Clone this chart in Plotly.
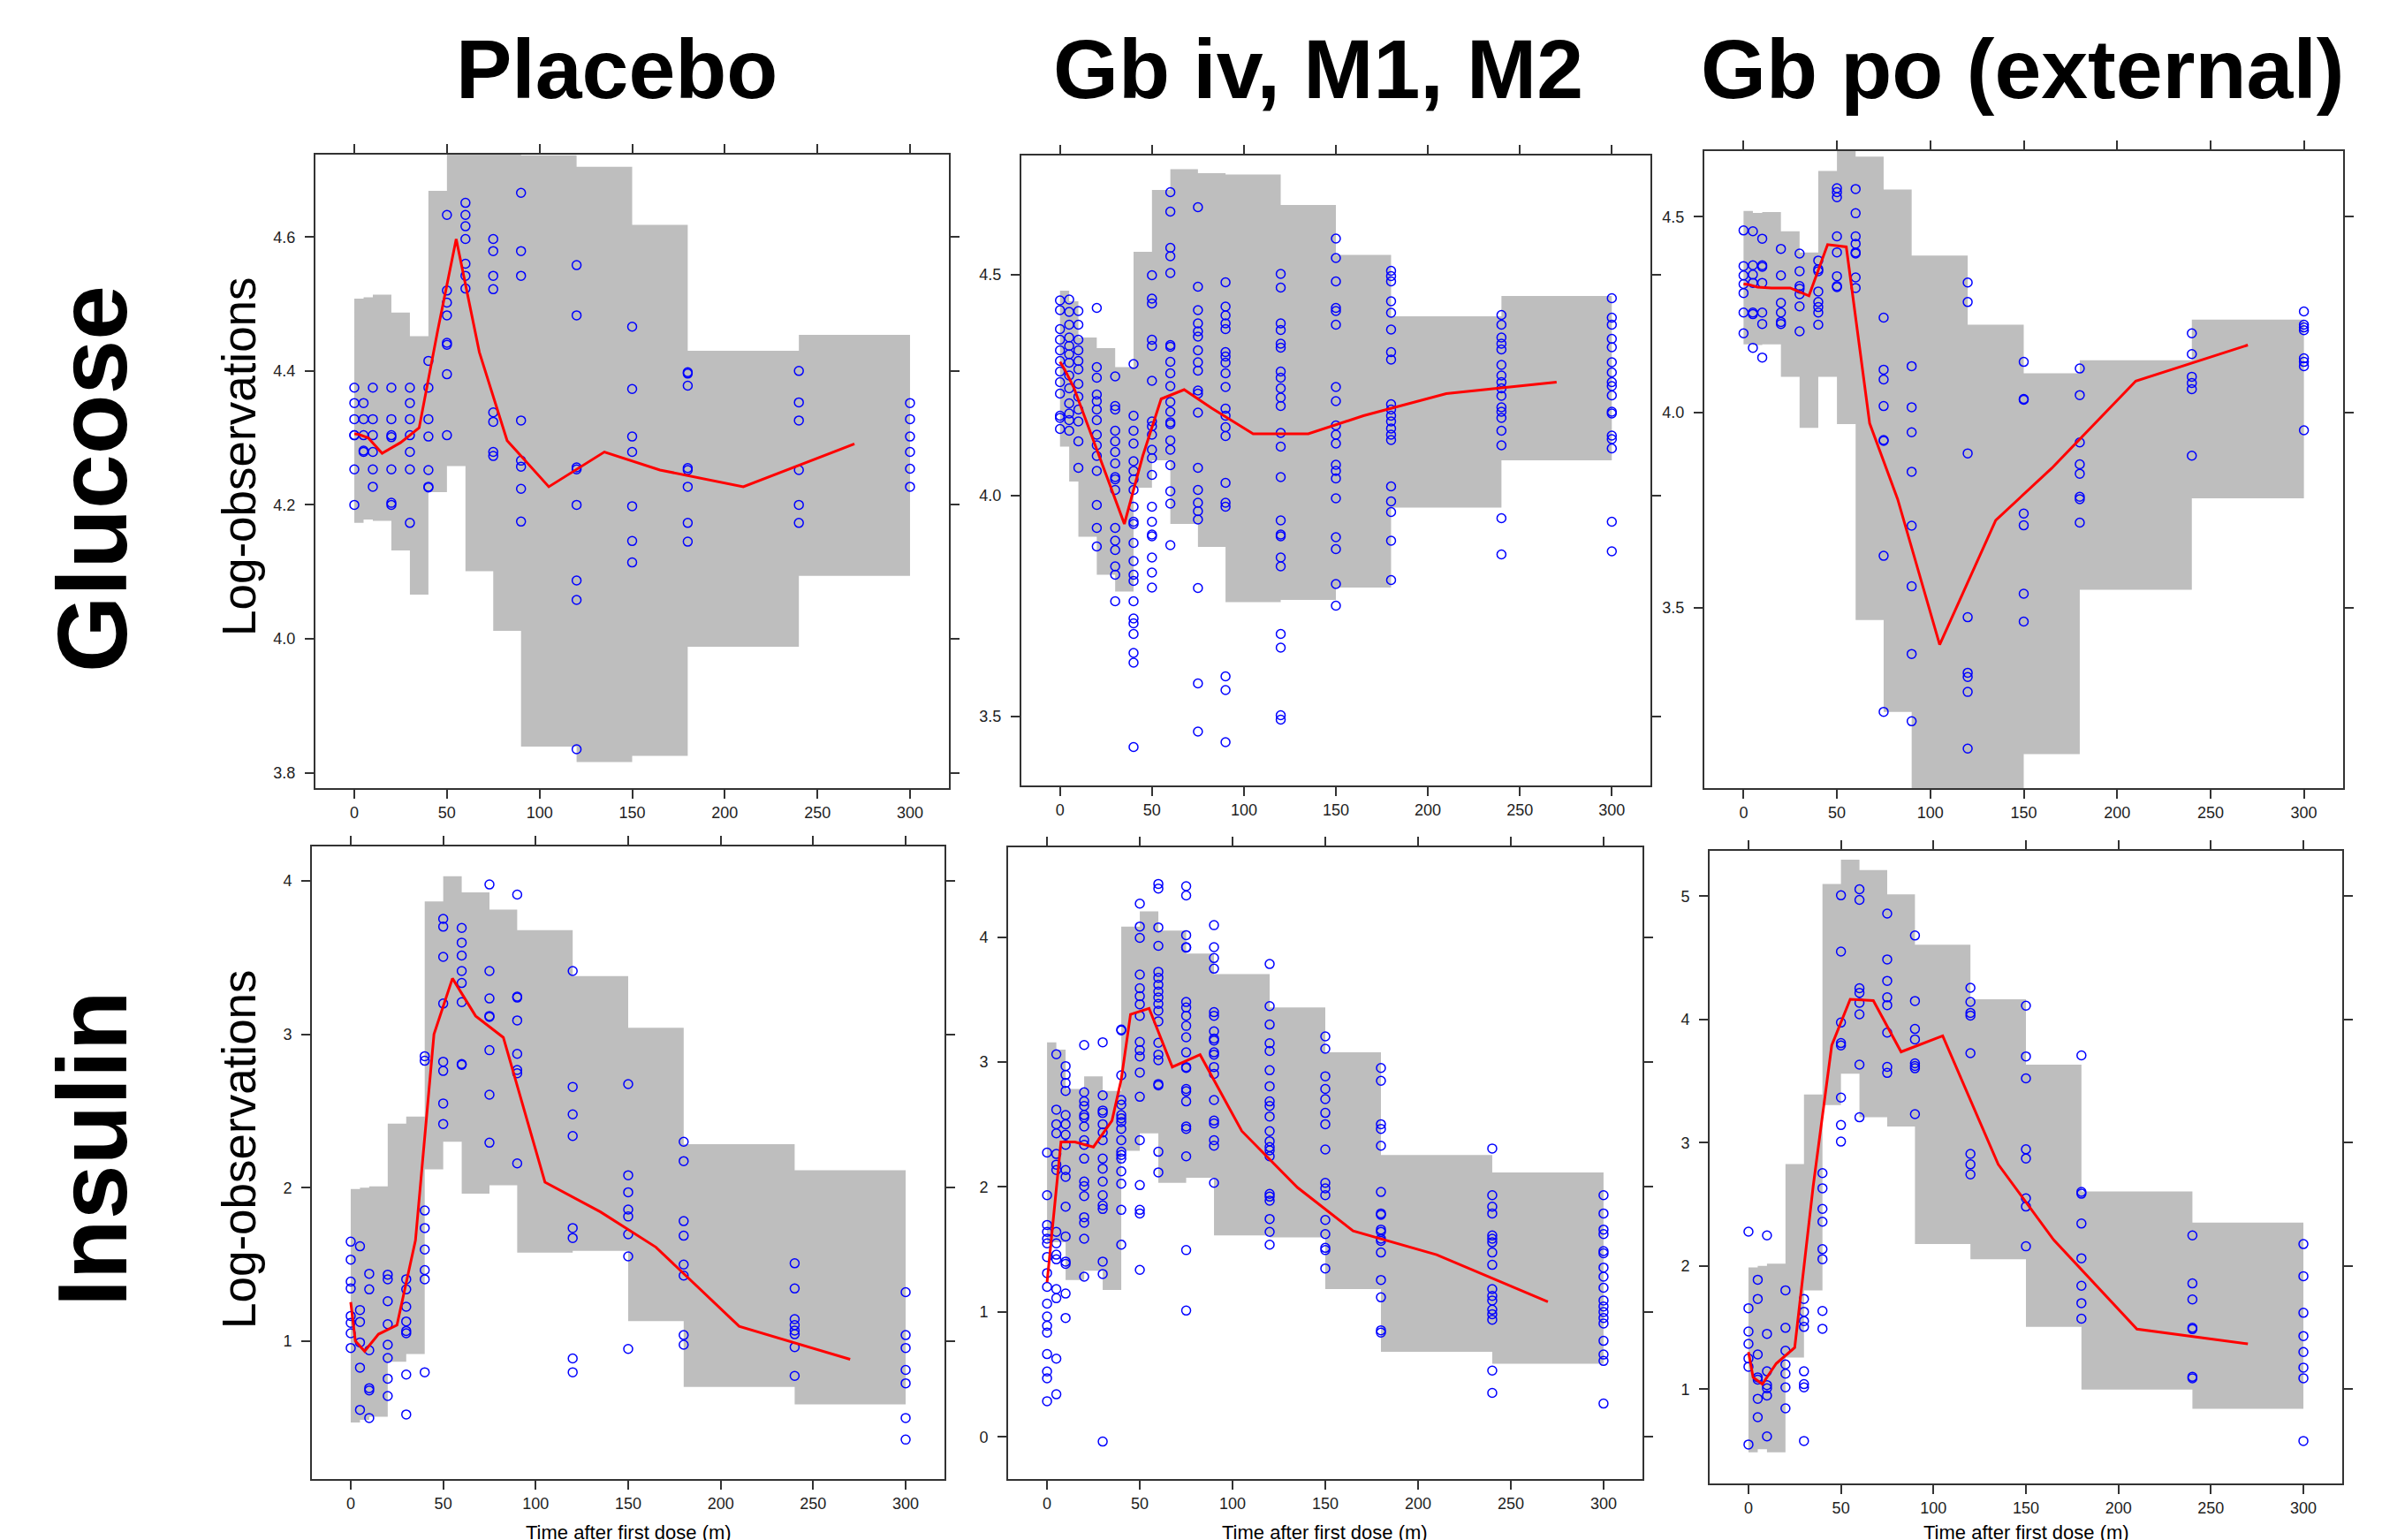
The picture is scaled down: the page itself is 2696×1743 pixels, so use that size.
import plotly.graph_objects as go

W, H = 2696, 1743

# ---------------- shared data ----------------
OBS_TIMES = [0, 5, 10, 20, 30, 40, 50, 60, 75, 90, 120, 150, 180, 240, 300]
BIN_EDGES = [0, 5, 10, 20, 30, 40, 50, 60, 75, 90, 120, 150, 180, 240, 300]
X_TICKS = [0, 50, 100, 150, 200, 250, 300]
COL_TITLES = ["Placebo", "Gb iv, M1, M2", "Gb po (external)"]
ROW_TITLES = ["Glucose", "Insulin"]
Y_LABEL = "Log-observations"
X_LABEL = "Time after first dose (m)"

# ---------------- Panel 1: Glucose / Placebo ----------------
p1_upper = [4.508, 4.510, 4.514, 4.487, 4.452, 4.669, 4.80, 4.80, 4.80, 4.722, 4.705, 4.618, 4.430, 4.454]
p1_lower = [4.173, 4.178, 4.176, 4.132, 4.066, 4.219, 4.258, 4.101, 4.012, 3.839, 3.816, 3.825, 3.988, 4.094]
p1_obs = [
    [4.375, 4.352, 4.328, 4.304, 4.304, 4.253, 4.200],
    [4.352, 4.328, 4.304, 4.279, 4.281],
    [4.375, 4.328, 4.304, 4.279, 4.253, 4.227],
    [4.375, 4.328, 4.304, 4.301, 4.253, 4.203, 4.200],
    [4.375, 4.352, 4.328, 4.304, 4.279, 4.253, 4.173],
    [4.415, 4.375, 4.328, 4.302, 4.252, 4.227, 4.226],
    [4.633, 4.520, 4.502, 4.483, 4.442, 4.439, 4.395, 4.304],
    [4.651, 4.633, 4.616, 4.597, 4.560, 4.542, 4.523],
    [4.597, 4.579, 4.542, 4.522, 4.338, 4.324, 4.279, 4.273],
    [4.666, 4.579, 4.542, 4.326, 4.266, 4.257, 4.224, 4.175],
    [4.558, 4.483, 4.256, 4.253, 4.200, 4.087, 4.058, 3.835],
    [4.466, 4.373, 4.302, 4.279, 4.198, 4.146, 4.114],
    [4.398, 4.396, 4.378, 4.255, 4.252, 4.227, 4.173, 4.145],
    [4.400, 4.353, 4.326, 4.252, 4.200, 4.173],
    [4.352, 4.328, 4.302, 4.279, 4.254, 4.227],
]
p1_med_x = [0, 2.5, 7.5, 15, 25, 35, 45, 55, 67.5, 82.5, 105, 135, 165, 210, 270]
p1_med_y = [4.306, 4.305, 4.300, 4.277, 4.293, 4.315, 4.46, 4.597, 4.428, 4.296, 4.227, 4.279, 4.252, 4.227, 4.291]

# ---------------- Panel 2: Glucose / Gb iv ----------------
p2_upper = [4.464, 4.44, 4.358, 4.334, 4.291, 4.552, 4.692, 4.739, 4.730, 4.727, 4.658, 4.545, 4.406, 4.452]
p2_lower = [4.111, 4.032, 3.907, 3.821, 3.783, 4.018, 4.080, 3.936, 3.884, 3.759, 3.764, 3.792, 3.973, 4.080]
p2_obs = [
    [4.442, 4.420, 4.377, 4.353, 4.329, 4.305, 4.281, 4.257, 4.231, 4.181, 4.176, 4.151],
    [4.444, 4.416, 4.387, 4.358, 4.339, 4.320, 4.301, 4.272, 4.243, 4.209, 4.186, 4.171, 4.147],
    [4.418, 4.387, 4.353, 4.329, 4.305, 4.286, 4.253, 4.224, 4.195, 4.168, 4.123, 4.063],
    [4.425, 4.291, 4.267, 4.229, 4.214, 4.195, 4.171, 4.138, 4.114, 4.090, 4.056, 3.979, 3.927, 3.885],
    [4.270, 4.203, 4.195, 4.147, 4.123, 4.099, 4.073, 4.042, 4.037, 4.013, 3.927, 3.898, 3.877, 3.840, 3.821, 3.761],
    [4.298, 4.181, 4.147, 4.118, 4.078, 4.056, 4.037, 4.013, 3.975, 3.941, 3.936, 3.893, 3.852, 3.821, 3.807,
     3.761, 3.722, 3.711, 3.687, 3.644, 3.622, 3.431],
    [4.499, 4.446, 4.435, 4.353, 4.339, 4.260, 4.168, 4.157, 4.138, 4.104, 4.085, 4.047, 3.975, 3.941, 3.912,
     3.908, 3.860, 3.826, 3.792],
    [4.687, 4.643, 4.561, 4.542, 4.504, 4.341, 4.337, 4.303, 4.277, 4.248, 4.212, 4.190, 4.166, 4.162, 4.125,
     4.104, 4.069, 4.010, 3.982, 3.888],
    [4.653, 4.473, 4.420, 4.390, 4.372, 4.360, 4.329, 4.302, 4.283, 4.238, 4.231, 4.188, 4.063, 4.013, 3.984,
     3.965, 3.946, 3.791, 3.575, 3.466],
    [4.483, 4.428, 4.408, 4.390, 4.377, 4.325, 4.315, 4.301, 4.277, 4.246, 4.197, 4.181, 4.155, 4.135, 4.029,
     3.984, 3.975, 3.591, 3.560, 3.442],
    [4.502, 4.471, 4.390, 4.375, 4.344, 4.335, 4.281, 4.267, 4.243, 4.222, 4.203, 4.142, 4.111, 4.042, 3.944,
     3.912, 3.908, 3.860, 3.840, 3.687, 3.656, 3.503, 3.493],
    [4.582, 4.538, 4.485, 4.425, 4.418, 4.387, 4.246, 4.214, 4.159, 4.138, 4.118, 4.070, 4.056, 4.039, 3.994,
     3.906, 3.879, 3.800, 3.751],
    [4.509, 4.497, 4.485, 4.440, 4.414, 4.376, 4.325, 4.308, 4.207, 4.195, 4.181, 4.168, 4.152, 4.138, 4.126,
     4.021, 3.987, 3.963, 3.898, 3.809],
    [4.409, 4.387, 4.358, 4.344, 4.331, 4.296, 4.272, 4.257, 4.243, 4.226, 4.200, 4.190, 4.176, 4.147, 4.114,
     3.949, 3.867],
    [4.447, 4.403, 4.387, 4.355, 4.336, 4.302, 4.279, 4.257, 4.248, 4.227, 4.190, 4.186, 4.136, 4.128, 4.107,
     3.941, 3.874],
]
p2_med_x = [0, 2.5, 7.5, 15, 25, 35, 45, 55, 67.5, 82.5, 105, 135, 165, 210, 270]
p2_med_y = [4.303, 4.286, 4.245, 4.16, 4.05, 3.936, 4.09, 4.219, 4.240, 4.198, 4.140, 4.140, 4.181, 4.231, 4.257]

# ---------------- Panel 3: Glucose / Gb po ----------------
p3_upper = [4.515, 4.510, 4.512, 4.463, 4.409, 4.617, 4.70, 4.654, 4.570, 4.401, 4.224, 4.100, 4.133, 4.237]
p3_lower = [4.174, 4.172, 4.174, 4.091, 3.960, 4.091, 3.970, 3.469, 3.234, 2.90, 2.90, 3.126, 3.546, 3.780]
p3_obs = [
    [4.465, 4.374, 4.350, 4.328, 4.305, 4.255, 4.202],
    [4.463, 4.376, 4.352, 4.331, 4.255, 4.251, 4.165],
    [4.444, 4.376, 4.372, 4.331, 4.255, 4.226, 4.140],
    [4.418, 4.350, 4.280, 4.255, 4.231, 4.226],
    [4.406, 4.361, 4.323, 4.316, 4.302, 4.271, 4.207],
    [4.388, 4.366, 4.361, 4.309, 4.282, 4.269, 4.255, 4.224],
    [4.573, 4.563, 4.550, 4.450, 4.409, 4.348, 4.323, 4.320],
    [4.571, 4.509, 4.450, 4.431, 4.409, 4.406, 4.345, 4.318],
    [4.242, 4.109, 4.084, 4.016, 3.929, 3.927, 3.633, 3.234],
    [4.118, 4.013, 3.949, 3.848, 3.710, 3.555, 3.382, 3.210],
    [4.332, 4.282, 3.895, 3.476, 3.334, 3.323, 3.285, 3.140],
    [4.129, 4.034, 4.032, 3.741, 3.711, 3.536, 3.465],
    [4.112, 4.044, 3.923, 3.867, 3.843, 3.784, 3.778, 3.718],
    [4.202, 4.149, 4.091, 4.075, 4.059, 3.889],
    [4.258, 4.224, 4.217, 4.210, 4.138, 4.129, 4.118, 3.954],
]
p3_med_x = [0, 2.5, 7.5, 15, 25, 35, 45, 55, 67.5, 82.5, 105, 135, 165, 210, 270]
p3_med_y = [4.328, 4.327, 4.320, 4.318, 4.318, 4.298, 4.429, 4.423, 3.972, 3.778, 3.406, 3.724, 3.857, 4.080, 4.172]

# ---------------- Panel 4: Insulin / Placebo ----------------
p4_upper = [1.991, 2.000, 2.009, 2.418, 2.463, 3.866, 4.03, 3.925, 3.812, 3.678, 3.379, 3.042, 2.284, 2.113]
p4_lower = [0.469, 0.487, 0.507, 0.866, 0.916, 2.119, 2.299, 1.961, 2.015, 1.576, 1.588, 1.131, 0.701, 0.588]
p4_obs = [
    [1.648, 1.531, 1.388, 1.343, 1.164, 1.119, 1.051, 0.955],
    [1.618, 1.203, 1.125, 0.991, 0.827, 0.552],
    [1.439, 1.337, 0.940, 0.693, 0.678, 0.499],
    [1.433, 1.403, 1.260, 1.110, 0.976, 0.890, 0.755, 0.642],
    [1.403, 1.337, 1.224, 1.128, 1.066, 1.051, 0.782, 0.522],
    [2.857, 2.827, 1.851, 1.737, 1.597, 1.463, 1.403, 0.797],
    [3.752, 3.701, 3.504, 3.200, 2.821, 2.761, 2.549, 2.415],
    [3.693, 3.597, 3.513, 3.412, 3.334, 3.209, 2.806, 2.800],
    [3.976, 3.412, 3.233, 3.119, 3.113, 2.896, 2.606, 2.293],
    [3.910, 3.245, 3.239, 3.090, 2.872, 2.767, 2.746, 2.158],
    [3.412, 2.657, 2.478, 2.337, 1.737, 1.672, 0.887, 0.797],
    [2.675, 2.081, 1.970, 1.857, 1.812, 1.696, 1.552, 0.949],
    [2.299, 2.173, 1.782, 1.687, 1.499, 1.427, 1.039, 0.976],
    [1.507, 1.343, 1.143, 1.104, 1.069, 1.045, 0.961, 0.773],
    [1.319, 1.039, 0.955, 0.812, 0.725, 0.499, 0.358],
]
p4_med_x = [0, 2.5, 7.5, 15, 25, 35, 45, 55, 67.5, 82.5, 105, 135, 165, 210, 270]
p4_med_y = [1.254, 1.000, 0.934, 1.045, 1.104, 1.657, 3.000, 3.364, 3.119, 2.979, 2.036, 1.842, 1.612, 1.096, 0.881]

# ---------------- Panel 5: Insulin / Gb iv ----------------
p5_upper = [3.158, 3.099, 2.784, 2.886, 2.769, 4.084, 4.205, 4.051, 3.868, 3.703, 3.436, 3.077, 2.256, 2.117]
p5_lower = [1.557, 1.557, 1.256, 1.330, 1.176, 2.289, 2.429, 2.033, 2.073, 1.612, 1.597, 1.183, 0.681, 0.586]
p5_obs = [
    [2.275, 1.934, 1.696, 1.641, 1.586, 1.549, 1.440, 1.311, 1.201, 1.066, 0.963, 0.890, 0.835, 0.663, 0.524,
     0.469, 0.286],
    [3.062, 2.619, 2.502, 2.429, 2.264, 2.179, 2.136, 1.641, 1.549, 1.458, 1.421, 1.183, 1.110, 0.626, 0.341],
    [2.967, 2.897, 2.832, 2.769, 2.575, 2.502, 2.418, 2.337, 2.136, 2.081, 1.842, 1.604, 1.403, 1.385, 1.147,
     0.952],
    [3.136, 2.758, 2.685, 2.648, 2.575, 2.557, 2.484, 2.374, 2.337, 2.227, 2.044, 2.007, 1.927, 1.758, 1.714,
     1.586, 1.282],
    [3.158, 2.733, 2.612, 2.593, 2.502, 2.436, 2.374, 2.227, 2.147, 2.044, 1.934, 1.853, 1.824, 1.403, 1.304,
     -0.037],
    [3.260, 3.253, 2.894, 2.696, 2.659, 2.575, 2.549, 2.520, 2.465, 2.374, 2.282, 2.256, 2.227, 2.125, 2.026,
     1.817, 1.538],
    [4.267, 4.084, 3.993, 3.700, 3.590, 3.527, 3.462, 3.370, 3.161, 3.095, 3.044, 2.916, 2.722, 2.374, 2.015,
     1.817, 1.788, 1.337],
    [4.425, 4.388, 4.077, 3.930, 3.722, 3.674, 3.619, 3.564, 3.516, 3.465, 3.410, 3.326, 3.154, 3.059, 3.015,
     2.824, 2.813, 2.282, 2.117],
    [4.407, 4.333, 4.015, 3.919, 3.915, 3.480, 3.436, 3.370, 3.289, 3.198, 3.077, 2.960, 2.952, 2.784, 2.766,
     2.685, 2.484, 2.465, 2.245, 1.495, 1.011],
    [4.095, 3.919, 3.832, 3.747, 3.399, 3.370, 3.245, 3.187, 3.172, 3.077, 3.059, 2.960, 2.905, 2.696, 2.531,
     2.509, 2.374, 2.330, 2.033],
    [3.784, 3.447, 3.300, 3.150, 3.088, 2.934, 2.806, 2.685, 2.648, 2.564, 2.447, 2.366, 2.319, 2.293, 2.245,
     1.945, 1.923, 1.890, 1.744, 1.641, 1.538],
    [3.205, 3.106, 2.886, 2.784, 2.703, 2.593, 2.502, 2.300, 2.033, 1.989, 1.934, 1.736, 1.623, 1.513, 1.495,
     1.348],
    [2.952, 2.850, 2.502, 2.465, 2.330, 1.960, 1.788, 1.777, 1.659, 1.641, 1.586, 1.568, 1.476, 1.256, 1.117,
     0.853, 0.835],
    [2.308, 1.934, 1.842, 1.788, 1.612, 1.586, 1.557, 1.476, 1.377, 1.183, 1.128, 1.092, 1.018, 0.982, 0.938,
     0.531, 0.352],
    [1.934, 1.788, 1.659, 1.623, 1.487, 1.469, 1.355, 1.282, 1.194, 1.092, 1.044, 1.000, 0.952, 0.908, 0.769,
     0.659, 0.608, 0.267],
]
p5_med_x = [0, 7.5, 15, 25, 35, 40, 45, 55, 67.5, 82.5, 105, 135, 165, 210, 270]
p5_med_y = [1.238, 2.360, 2.360, 2.320, 2.531, 2.86, 3.381, 3.429, 2.960, 3.059, 2.447, 1.996, 1.648, 1.458, 1.081]

# ---------------- Panel 6: Insulin / Gb po ----------------
p6_upper = [1.988, 2.000, 2.018, 2.827, 3.392, 5.100, 5.297, 5.212, 5.015, 4.606, 4.164, 3.633, 2.604, 2.352]
p6_lower = [0.487, 0.513, 0.487, 1.256, 1.802, 3.306, 3.559, 3.206, 3.132, 2.177, 2.055, 1.505, 0.996, 0.840]
p6_obs = [
    [2.278, 1.657, 1.468, 1.368, 1.249, 1.182, 0.551],
    [1.888, 1.732, 1.282, 1.096, 1.078, 0.922, 0.773],
    [2.248, 1.449, 1.145, 1.033, 1.007, 0.948, 0.617],
    [1.802, 1.498, 1.312, 1.201, 1.126, 1.015, 0.844],
    [1.732, 1.628, 1.553, 1.505, 1.145, 1.041, 1.015, 0.580],
    [2.753, 2.630, 2.463, 2.359, 2.136, 2.055, 1.635, 1.490],
    [5.007, 4.551, 3.975, 3.808, 3.789, 3.366, 3.143, 3.009],
    [5.056, 4.970, 4.253, 4.216, 4.135, 4.042, 3.633, 3.206],
    [4.859, 4.487, 4.313, 4.179, 4.116, 3.893, 3.615, 3.566],
    [4.681, 4.150, 3.923, 3.838, 3.644, 3.622, 3.604, 3.232],
    [4.257, 4.142, 4.053, 4.031, 3.726, 2.909, 2.824, 2.742],
    [4.112, 3.700, 3.522, 2.946, 2.872, 2.549, 2.482, 2.159],
    [3.708, 2.601, 2.586, 2.344, 2.062, 1.839, 1.698, 1.572],
    [2.248, 1.858, 1.728, 1.498, 1.487, 1.100, 1.089],
    [2.177, 1.917, 1.620, 1.431, 1.301, 1.175, 1.089, 0.580],
]
p6_med_x = [0, 2.5, 7.5, 15, 25, 35, 45, 55, 67.5, 82.5, 105, 135, 165, 210, 270]
p6_med_y = [1.301, 1.096, 1.041, 1.208, 1.338, 2.649, 3.789, 4.164, 4.153, 3.737, 3.867, 2.824, 2.211, 1.487, 1.368]

# y axis ranges / ticks per panel
Y_RANGES = [[3.777, 4.723], [3.344, 4.770], [3.039, 4.668],
            [0.101, 4.224], [-0.337, 4.718], [0.235, 5.368]]
Y_TICKS = [[3.8, 4.0, 4.2, 4.4, 4.6], [3.5, 4.0, 4.5], [3.5, 4.0, 4.5],
           [1, 2, 3, 4], [0, 1, 2, 3, 4], [1, 2, 3, 4, 5]]
Y_FORMATS = [".1f", ".1f", ".1f", "d", "d", "d"]

# ---------------- layout geometry (pixels) ----------------
FRAMES = [  # x0, x1, y0(top), y1(bottom)
    (349, 1066, 167, 884),
    (1148, 1860, 168, 881),
    (1921, 2644, 163, 884),
    (345, 1061, 950, 1666),
    (1133, 1851, 951, 1666),
    (1927, 2643, 955, 1671),
]

panels = [
    (p1_upper, p1_lower, p1_obs, p1_med_x, p1_med_y),
    (p2_upper, p2_lower, p2_obs, p2_med_x, p2_med_y),
    (p3_upper, p3_lower, p3_obs, p3_med_x, p3_med_y),
    (p4_upper, p4_lower, p4_obs, p4_med_x, p4_med_y),
    (p5_upper, p5_lower, p5_obs, p5_med_x, p5_med_y),
    (p6_upper, p6_lower, p6_obs, p6_med_x, p6_med_y),
]

FONT = "Liberation Sans, Arial, sans-serif"
AXCOL = "#333333"

fig = go.Figure()


def band_polygon(edges, lower, upper):
    xs, ys = [], []
    for i in range(len(upper)):
        xs += [edges[i], edges[i + 1]]
        ys += [upper[i], upper[i]]
    for i in reversed(range(len(lower))):
        xs += [edges[i + 1], edges[i]]
        ys += [lower[i], lower[i]]
    xs.append(xs[0])
    ys.append(ys[0])
    return xs, ys


layout_axes = {}
for k, (up, lo, obs, mx, my) in enumerate(panels):
    n = k + 1
    xa = "x" if n == 1 else f"x{n}"
    ya = "y" if n == 1 else f"y{n}"
    bx, by = band_polygon(BIN_EDGES, lo, up)
    fig.add_trace(go.Scatter(x=bx, y=by, xaxis=xa, yaxis=ya, mode="lines",
                             fill="toself", fillcolor="#BEBEBE",
                             line=dict(width=0, color="#BEBEBE"),
                             hoverinfo="skip", showlegend=False))
    ox = [t for t, vals in zip(OBS_TIMES, obs) for _ in vals]
    oy = [v for vals in obs for v in vals]
    fig.add_trace(go.Scatter(x=ox, y=oy, xaxis=xa, yaxis=ya, mode="markers",
                             marker=dict(symbol="circle-open", size=10, color="#0000FF",
                                         line=dict(width=1.5, color="#0000FF")),
                             showlegend=False))
    fig.add_trace(go.Scatter(x=mx, y=my, xaxis=xa, yaxis=ya, mode="lines",
                             line=dict(color="#FF0000", width=3),
                             showlegend=False))

    x0, x1, yt, yb = FRAMES[k]
    common = dict(showline=True, linewidth=2, linecolor=AXCOL, mirror="ticks",
                  ticks="outside", ticklen=10, tickwidth=1.5, tickcolor=AXCOL,
                  showgrid=False, zeroline=False, fixedrange=True,
                  tickfont=dict(family=FONT, size=18, color="#222222"))
    key = "" if n == 1 else str(n)
    layout_axes["xaxis" + key] = dict(domain=[x0 / W, x1 / W], anchor=ya,
                                      range=[-21, 321], tickmode="array",
                                      tickvals=X_TICKS, ticklabelstandoff=0, **common)
    layout_axes["yaxis" + key] = dict(domain=[1 - yb / H, 1 - yt / H], anchor=xa,
                                      range=Y_RANGES[k], tickmode="array",
                                      tickvals=Y_TICKS[k], tickformat=Y_FORMATS[k],
                                      ticklabelstandoff=7, **common)

fig.update_layout(**layout_axes)

annotations = []
# column titles
for title, cx in zip(COL_TITLES, [690, 1484, 2281]):
    annotations.append(dict(text=f"<b>{title}</b>", x=cx / W, y=1 - 70 / H, xref="paper", yref="paper",
                            xanchor="center", yanchor="middle", showarrow=False,
                            font=dict(family=FONT, size=95, color="black")))
# row titles
for title, cy in zip(ROW_TITLES, [534, 1292]):
    annotations.append(dict(text=f"<b>{title}</b>", x=97 / W, y=1 - cy / H, xref="paper", yref="paper",
                            xanchor="center", yanchor="middle", showarrow=False, textangle=-90,
                            font=dict(family=FONT, size=111, color="black")))
# y labels
for cy in [509, 1293]:
    annotations.append(dict(text=Y_LABEL, x=262 / W, y=1 - cy / H, xref="paper", yref="paper",
                            xanchor="center", yanchor="middle", showarrow=False, textangle=-90,
                            font=dict(family=FONT, size=53, color="black")))
# x labels
for k in [3, 4, 5]:
    x0, x1, _, _ = FRAMES[k]
    annotations.append(dict(text=X_LABEL, x=(x0 + x1) / 2 / W, y=1 - 1741 / H, xref="paper", yref="paper",
                            xanchor="center", yanchor="bottom", showarrow=False,
                            font=dict(family=FONT, size=22, color="black")))

fig.update_layout(width=W, height=H, autosize=False,
                  margin=dict(l=0, r=0, t=0, b=0),
                  paper_bgcolor="white", plot_bgcolor="white",
                  annotations=annotations, showlegend=False)

fig.write_html("out.html")
